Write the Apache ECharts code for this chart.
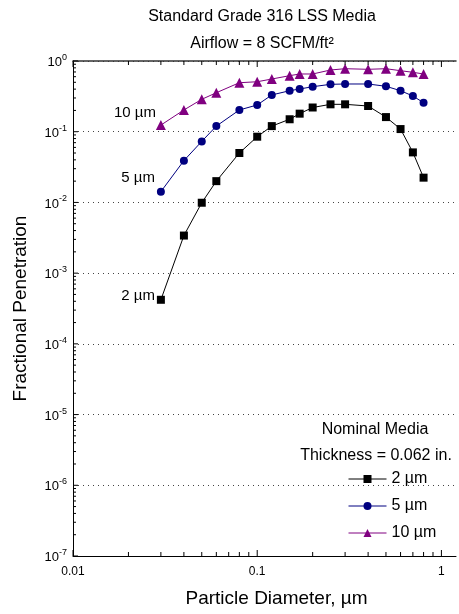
<!DOCTYPE html>
<html><head><meta charset="utf-8">
<script src="https://cdn.jsdelivr.net/npm/echarts@6/dist/echarts.min.js"></script>
<style>html,body{margin:0;padding:0;background:#fff}#c{width:459px;height:614px}</style>
</head><body><div id="c"></div>
<script>
const diameters = [0.03,0.04,0.05,0.06,0.08,0.1,0.12,0.15,0.17,0.2,0.25,0.3,0.4,0.5,0.6,0.7,0.8];
const pen2um  = [4.2e-4,3.4e-3,9.9e-3,0.020,0.050,0.085,0.12,0.15,0.18,0.22,0.244,0.244,0.231,0.161,0.109,0.051,0.0224];
const pen5um  = [0.0142,0.039,0.073,0.12,0.203,0.239,0.331,0.38,0.402,0.433,0.468,0.473,0.473,0.439,0.38,0.32,0.257];
const pen10um = [0.124,0.203,0.287,0.356,0.493,0.509,0.556,0.62,0.655,0.655,0.746,0.778,0.763,0.778,0.729,0.692,0.655];
const seriesNames = ['2 µm','5 µm','10 µm'];
const xMajorTicks = [0.01,0.1,1];
const yMajorTicks = [1e-7,1e-6,1e-5,1e-4,1e-3,1e-2,1e-1,1];
const X_MIN = 0.01, X_MAX = 1.2, Y_MIN = 1e-7, Y_MAX = 1;

const FONT = "'Liberation Sans', Arial, sans-serif";
const xMinor = [], yMinor = [];
for (let d = -2; d < 1; d++) for (let k = 2; k <= 9; k++) xMinor.push(+(k * Math.pow(10, d)).toPrecision(3));
for (let d = -7; d < 0; d++) for (let k = 2; k <= 9; k++) yMinor.push(+(k * Math.pow(10, d)).toPrecision(3));

const xTickData = xMajorTicks.map(v => [v, Y_MIN, 6]).concat(xMinor.filter(v => v <= X_MAX).map(v => [v, Y_MIN, 4]));
const yTickData = yMajorTicks.map(v => [X_MIN, v, 5]).concat(yMinor.map(v => [X_MIN, v, 3]));

function mk(name, vals, color, symbol, size, labelOffset) {
  return {
    name, type: 'line', data: diameters.map((x, i) => [x, vals[i]]),
    symbol, symbolSize: size, showSymbol: true,
    lineStyle: { color, width: 1 }, itemStyle: { color },
    label: { show: true, position: 'left', distance: 4, offset: labelOffset,
      formatter: p => p.dataIndex === 0 ? name : '',
      color: '#000', fontSize: 15, fontFamily: FONT },
    z: 3
  };
}

const chart = echarts.init(document.getElementById('c'));
chart.setOption({
  animation: false,
  backgroundColor: '#fff',
  grid: { left: 73, right: 2, top: 61, bottom: 58, containLabel: false },
  xAxis: [{
    type: 'log', min: X_MIN, max: X_MAX, logBase: 10,
    name: 'Particle Diameter, µm', nameLocation: 'middle', nameGap: 33,
    nameTextStyle: { fontSize: 19, fontFamily: FONT, color: '#000', padding: [0,0,0,24] },
    axisLine: { lineStyle: { color: '#000', width: 1 } },
    axisTick: { show: false }, splitLine: { show: false },
    axisLabel: { fontSize: 12, fontFamily: FONT, color: '#000', margin: 10,
      formatter: v => { const l = Math.log10(v); return Math.abs(l - Math.round(l)) < 1e-6 ? String(+v.toPrecision(3)) : ''; } }
  }, {
    type: 'log', min: X_MIN, max: X_MAX, position: 'top',
    axisLine: { lineStyle: { color: '#333', width: 1.5 } },
    axisTick: { show: false }, axisLabel: { show: false }, splitLine: { show: false }
  }],
  yAxis: {
    type: 'log', min: Y_MIN, max: Y_MAX, logBase: 10,
    name: 'Fractional Penetration', nameLocation: 'middle', nameGap: 43,
    nameTextStyle: { fontSize: 19, fontFamily: FONT, color: '#000' },
    axisLine: { lineStyle: { color: '#000', width: 1 } },
    axisTick: { show: false },
    splitLine: { show: true, lineStyle: { color: '#444', type: [1, 4], width: 1 } },
    axisLabel: { margin: 6, fontFamily: FONT, color: '#000',
      formatter: v => '{b|10}{s|' + Math.round(Math.log10(v)) + '}',
      rich: { b: { fontSize: 13, fontFamily: FONT, color: '#000', verticalAlign: 'bottom', lineHeight: 16 },
              s: { fontSize: 9, fontFamily: FONT, color: '#000', verticalAlign: 'top', lineHeight: 9 } } }
  },
  legend: {
    data: seriesNames, orient: 'vertical', left: 348, top: 471, padding: 0,
    itemWidth: 38, itemHeight: 10, itemGap: 11,
    lineStyle: { width: 1 },
    textStyle: { fontSize: 16, fontFamily: FONT, color: '#000' }
  },
  graphic: [
    { type: 'text', x: 262, y: 17, style: { text: 'Standard Grade 316 LSS Media', fontSize: 16, fontFamily: FONT, fill: '#000', align: 'center', verticalAlign: 'middle' } },
    { type: 'text', x: 262, y: 44, style: { text: 'Airflow = 8 SCFM/ft²', fontSize: 16, fontFamily: FONT, fill: '#000', align: 'center', verticalAlign: 'middle' } },
    { type: 'text', x: 375, y: 430, style: { text: 'Nominal Media', fontSize: 16, fontFamily: FONT, fill: '#000', align: 'center', verticalAlign: 'middle' } },
    { type: 'text', x: 376, y: 456, style: { text: 'Thickness = 0.062 in.', fontSize: 16, fontFamily: FONT, fill: '#000', align: 'center', verticalAlign: 'middle' } }
  ],
  series: [
    mk('2 µm', pen2um, '#000000', 'rect', 8, [2, -4]),
    mk('5 µm', pen5um, '#000080', 'circle', 8, [2, -14]),
    mk('10 µm', pen10um, '#800080', 'triangle', 10, [4, -12]),
    {
      name: 'xticks', type: 'custom', data: xTickData, silent: true, z: 5,
      renderItem: (params, api) => {
        const v = api.value(0), len = api.value(2);
        const b = api.coord([v, Y_MIN]), t = api.coord([v, Y_MAX]);
        const st = { stroke: '#000', lineWidth: 1 };
        return { type: 'group', children: [
          { type: 'line', shape: { x1: b[0], y1: b[1], x2: b[0], y2: b[1] - len }, style: st },
          { type: 'line', shape: { x1: t[0], y1: t[1], x2: t[0], y2: t[1] + len }, style: st }
        ] };
      }
    },
    {
      name: 'yticks', type: 'custom', data: yTickData, silent: true, z: 5,
      renderItem: (params, api) => {
        const v = api.value(1), len = api.value(2);
        const p = api.coord([X_MIN, v]);
        return { type: 'line', shape: { x1: p[0], y1: p[1], x2: p[0] + len, y2: p[1] }, style: { stroke: '#000', lineWidth: 1 } };
      }
    }
  ]
});
</script></body></html>
